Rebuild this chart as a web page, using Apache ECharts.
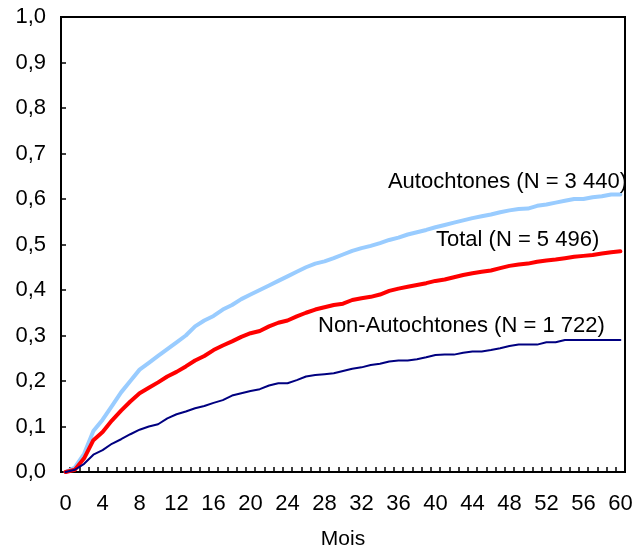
<!DOCTYPE html>
<html>
<head>
<meta charset="utf-8">
<script src="https://cdn.jsdelivr.net/npm/echarts@6/dist/echarts.min.js"></script>
<style>
  html, body { margin: 0; padding: 0; background: #fff; }
  #chart { width: 641px; height: 548px; }
</style>
</head>
<body>
<div id="chart"></div>
<script>
// Months since start (0 to 60)
const months = Array.from({ length: 61 }, (_, i) => String(i));

// Cumulative proportion, Autochtones (N = 3 440)
const autochtones = [
  0, 0.01, 0.04, 0.09, 0.115, 0.145, 0.175, 0.2, 0.225, 0.24,
  0.255, 0.27, 0.285, 0.3, 0.32, 0.333, 0.343, 0.357, 0.367, 0.38,
  0.39, 0.4, 0.41, 0.42, 0.43, 0.44, 0.45, 0.458, 0.463, 0.47,
  0.478, 0.486, 0.492, 0.497, 0.503, 0.51, 0.515, 0.522, 0.527, 0.532,
  0.538, 0.543, 0.548, 0.553, 0.558, 0.562, 0.566, 0.571, 0.575, 0.578,
  0.579, 0.585, 0.588, 0.592, 0.596, 0.6, 0.6, 0.604, 0.606, 0.61,
  0.61
];

// Cumulative proportion, Total (N = 5 496)
const total = [
  0, 0.005, 0.03, 0.07, 0.088, 0.113, 0.135, 0.155, 0.173, 0.185,
  0.197, 0.21, 0.22, 0.232, 0.245, 0.255, 0.268, 0.278, 0.287, 0.297,
  0.305, 0.31, 0.32, 0.328, 0.333, 0.342, 0.35, 0.357, 0.362, 0.367,
  0.37, 0.378, 0.382, 0.385, 0.39, 0.398, 0.403, 0.407, 0.411, 0.415,
  0.42, 0.423, 0.428, 0.433, 0.437, 0.44, 0.443, 0.448, 0.453, 0.456,
  0.458, 0.462, 0.465, 0.467, 0.47, 0.473, 0.475, 0.477, 0.48, 0.483,
  0.485
];

// Cumulative proportion, Non-Autochtones (N = 1 722)
const nonAutochtones = [
  0, 0.005, 0.018, 0.038, 0.048, 0.062, 0.072, 0.083, 0.093, 0.1,
  0.105, 0.118, 0.127, 0.133, 0.14, 0.145, 0.152, 0.158, 0.168, 0.173,
  0.178, 0.182, 0.19, 0.195, 0.195, 0.202, 0.21, 0.213, 0.215, 0.217,
  0.222, 0.227, 0.23, 0.235, 0.238, 0.243, 0.245, 0.245, 0.248, 0.252,
  0.257, 0.258, 0.258, 0.262, 0.265, 0.265, 0.268, 0.272, 0.277, 0.28,
  0.28, 0.28, 0.285, 0.285, 0.29, 0.29, 0.29, 0.29, 0.29, 0.29,
  0.29
];

const seriesLabels = [
  'Autochtones (N = 3 440)',
  'Total (N = 5 496)',
  'Non-Autochtones (N = 1 722)'
];

const FONT = '"Liberation Sans", Arial, sans-serif';
const FS = 22;
const chart = echarts.init(document.getElementById('chart'), null, { renderer: 'canvas' });

const lineSeries = (name, data, color, width, z) => ({
  name, type: 'line', data, showSymbol: false, symbol: 'none',
  smooth: false, animation: false, z,
  lineStyle: { color, width, join: 'round', cap: 'round' }
});

const note = (text, x, y, align) => ({
  type: 'text', x, y, z: 10,
  style: { text, fill: '#000', font: `${FS}px ${FONT}`, align, verticalAlign: 'middle' }
});

chart.setOption({
  backgroundColor: '#ffffff',
  animation: false,
  grid: {
    left: 61, right: 16, top: 17, bottom: 76,
    outerBoundsMode: 'none', containLabel: false,
    show: true, borderColor: '#000', borderWidth: 2, backgroundColor: 'transparent'
  },
  xAxis: {
    type: 'category',
    data: months,
    boundaryGap: true,
    name: 'Mois',
    nameLocation: 'middle',
    nameGap: 57,
    nameTextStyle: { color: '#000', fontSize: 21, fontFamily: FONT },
    axisLine: { lineStyle: { color: '#000', width: 2 } },
    axisTick: { show: true, inside: true, length: 5, interval: 0, lineStyle: { color: '#000', width: 1.5 } },
    axisLabel: { interval: 3, margin: 21, color: '#000', fontSize: FS, fontFamily: FONT },
    splitLine: { show: false }
  },
  yAxis: {
    type: 'value',
    min: 0, max: 1, interval: 0.1,
    axisLine: { show: true, lineStyle: { color: '#000', width: 2 } },
    axisTick: { show: true, inside: true, length: 5, lineStyle: { color: '#000', width: 1.5 } },
    axisLabel: {
      margin: 15, color: '#000', fontSize: FS, fontFamily: FONT,
      formatter: v => v.toFixed(1).replace('.', ',')
    },
    splitLine: { show: false }
  },
  series: [
    lineSeries(seriesLabels[0], autochtones, '#99CCFF', 4, 2),
    lineSeries(seriesLabels[1], total, '#FF0000', 4, 3),
    lineSeries(seriesLabels[2], nonAutochtones, '#000080', 2, 4)
  ],
  graphic: [
    note(seriesLabels[0], 627, 182, 'right'),
    note(seriesLabels[1], 436, 240, 'left'),
    note(seriesLabels[2], 318, 326, 'left')
  ]
});
</script>
</body>
</html>
